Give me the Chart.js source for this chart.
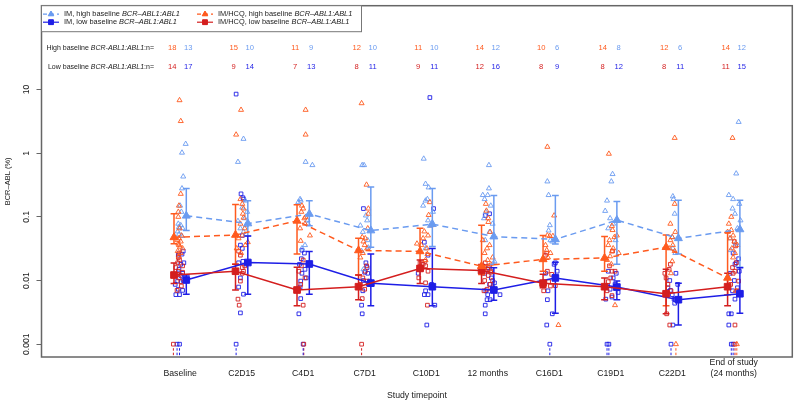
<!DOCTYPE html>
<html><head><meta charset="utf-8">
<script src="https://cdn.jsdelivr.net/npm/chart.js@4.4.1/dist/chart.umd.min.js"></script>
<style>html,body{margin:0;padding:0;background:#fff}</style>
</head><body>
<canvas id="c" width="798" height="401"></canvas>
<script>
// ---------------- data ----------------
const categories = ['Baseline','C2D15','C4D1','C7D1','C10D1','12 months','C16D1','C19D1','C22D1',['End of study','(24 months)']];
const yTicks = [0.001,0.01,0.1,1,10];
const yTickLabels = ['0.001','0.01','0.1','1','10'];

const nHighHcq = [18,15,11,12,11,14,10,14,12,14];
const nHighIm  = [13,10,9,10,10,12,6,8,6,12];
const nLowHcq  = [14,9,7,8,9,12,8,8,8,11];
const nLowIm   = [17,14,13,11,11,16,9,12,11,15];

// summary (mean + bars)
const hcqHighMean = [0.0477,0.052,0.0867,0.0297,0.0287,0.0168,0.0215,0.0226,0.0334,0.011];
const hcqHighLo   = [0.038,0.018,0.026,0.0122,0.016,0.0124,0.014,0.014,0.004,0.006];
const hcqHighHi   = [0.112,0.157,0.155,0.046,0.066,0.074,0.051,0.049,0.052,0.057];
const imHighMean  = [0.104,0.0787,0.111,0.061,0.077,0.049,0.0443,0.089,0.046,0.0635];
const imHighLo    = [0.061,0.050,0.0725,0.0334,0.0343,0.018,0.0375,0.018,0.026,0.0162];
const imHighHi    = [0.28,0.179,0.179,0.295,0.28,0.217,0.217,0.175,0.183,0.183];
const hcqLowMean  = [0.0122,0.014,0.0071,0.008,0.0155,0.0144,0.0091,0.008,0.0062,0.008];
const hcqLowLo    = [0.009,0.0071,0.004,0.005,0.009,0.009,0.0077,0.005,0.003,0.004];
const hcqLowHi    = [0.0189,0.018,0.0162,0.0122,0.021,0.0178,0.0125,0.011,0.015,0.013];
const imLowMean   = [0.0102,0.0192,0.0182,0.0091,0.008,0.0071,0.011,0.0079,0.005,0.0062];
const imLowLo     = [0.0061,0.0061,0.0061,0.004,0.004,0.0049,0.00305,0.005,0.002,0.00305];
const imLowHi     = [0.0122,0.050,0.0287,0.026,0.032,0.0159,0.0193,0.0098,0.0091,0.0159];

// individual patient values (0.001 = undetectable)
const hcqHighVals = [
 [6.8,3.2,0.23,0.15,0.12,0.10,0.066,0.046,0.041,0.036,0.032,0.043,0.051,0.038,0.034,0.029,0.027,0.024],
 [4.8,1.96,0.19,0.16,0.135,0.097,0.040,0.027,0.046,0.066,0.078,0.112,0.036,0.032,0.051],
 [4.8,1.96,0.15,0.135,0.12,0.10,0.051,0.042,0.095,0.066,0.078],
 [6.1,0.32,0.135,0.112,0.048,0.041,0.036,0.046,0.032,0.027,0.066,0.023],
 [0.17,0.107,0.059,0.038,0.026,0.046,0.032,0.074,0.036,0.021,0.051],
 [0.16,0.125,0.095,0.083,0.018,0.016,0.036,0.027,0.023,0.032,0.058,0.043,0.021,0.014],
 [1.26,0.105,0.036,0.030,0.023,0.051,0.050,0.050,0.002,0.027],
 [0.98,0.072,0.062,0.043,0.048,0.027,0.018,0.0041,0.036,0.032,0.024,0.051,0.021,0.029],
 [1.74,0.16,0.078,0.048,0.043,0.029,0.020,0.013,0.001,0.036,0.032,0.058],
 [1.74,0.10,0.062,0.051,0.0069,0.001,0.078,0.041,0.032,0.027,0.046,0.036,0.023,0.058]
];
const hcqHighJit = [
 [-0.01,0.01,0.01,-0.02,-0.03,-0.03,-0.01,-0.02,0.01,-0.02,0.04,-0.04,0.02,-0.03,0,-0.04,0.01,-0.02],
 [-0.01,-0.09,-0.02,0.01,0.03,0.03,0.1,-0.01,-0.05,0.05,-0.02,0.02,0.06,-0.08,0.01],
 [0.04,0.04,-0.02,0,-0.03,0.04,0.11,-0.04,0.02,-0.05,0.03],
 [-0.05,0.03,0.06,0.06,-0.04,-0.02,0,0.01,0.04,-0.03,0.05,-0.07],
 [0.06,0.04,-0.03,-0.15,0.02,-0.05,0.01,0.09,-0.08,-0.01,0.03],
 [-0.03,-0.02,0.01,0.01,0.05,-0.06,0.03,-0.05,0.08,-0.01,0.04,-0.08,0,0.06],
 [-0.03,0.08,-0.06,-0.04,-0.02,-0.03,0.01,0.06,0.15,0.02],
 [-0.03,0.02,0.03,-0.02,0.06,0.13,0.01,0.07,-0.04,0.04,-0.01,0.1,-0.06,0.02],
 [0.04,0.04,-0.03,0,-0.03,0.04,0,-0.02,0.06,0.01,-0.05,0.05],
 [-0.02,-0.04,-0.04,-0.01,0.03,0.05,-0.08,0.01,-0.03,0.02,-0.06,0.06,-0.01,-0.1]
];
const imHighVals = [
 [1.40,1.02,0.43,0.28,0.15,0.12,0.069,0.059,0.053,0.074,0.066,0.078,0.050],
 [1.68,0.73,0.086,0.18,0.12,0.066,0.095,0.14,0.058,0.074],
 [0.73,0.65,0.19,0.18,0.17,0.088,0.078,0.036,0.032],
 [0.65,0.65,0.033,0.015,0.105,0.073,0.043,0.058,0.088,0.029],
 [0.82,0.33,0.29,0.19,0.18,0.072,0.032,0.12,0.15,0.088],
 [0.65,0.28,0.22,0.22,0.043,0.020,0.19,0.15,0.12,0.078,0.058,0.095],
 [0.36,0.22,0.061,0.043,0.041,0.074],
 [0.47,0.36,0.18,0.124,0.043,0.095,0.078,0.066],
 [0.21,0.19,0.112,0.048,0.027,0.032],
 [3.1,0.48,0.22,0.19,0.112,0.16,0.030,0.088,0.135,0.066,0.046,0.038]
];
const imHighJit = [
 [0.09,0.03,0.05,0.03,0,0.02,-0.02,-0.04,-0.02,0.01,0.04,-0.03,0.03],
 [0.03,-0.06,-0.06,0.06,0.09,-0.02,0.05,0.01,0.03,0.07],
 [0.04,0.15,-0.05,-0.04,-0.08,0.07,0.08,0.03,-0.02],
 [-0.04,-0.01,0.06,-0.02,0.02,-0.07,0.05,-0.03,0.04,-0.05],
 [-0.04,-0.01,0.04,0.02,-0.01,0.06,-0.01,0.11,-0.05,0.03],
 [0.02,0.02,-0.08,0,-0.04,0.11,-0.05,0.05,-0.03,0.08,0.03,-0.06],
 [-0.03,-0.01,-0.01,0.02,0.05,0.01],
 [0.03,0.01,-0.06,-0.09,0.08,-0.01,0.04,-0.04],
 [0.01,0.02,0.04,0,0.05,0.01],
 [0.08,0.04,-0.08,-0.01,0.02,0.09,-0.05,0.11,-0.02,0.06,-0.06,0.03]
];
const hcqLowVals = [
 [0.023,0.019,0.017,0.014,0.0135,0.0096,0.0070,0.021,0.016,0.011,0.0082,0.0125,0.027,0.001],
 [0.029,0.025,0.017,0.016,0.014,0.013,0.0098,0.0051,0.0041],
 [0.021,0.017,0.014,0.0087,0.0041,0.001,0.011],
 [0.011,0.017,0.0052,0.001,0.014,0.0087,0.0073,0.0098],
 [0.020,0.018,0.017,0.015,0.011,0.0092,0.0041,0.019,0.014],
 [0.014,0.0135,0.012,0.010,0.0073,0.017,0.013,0.010,0.019,0.0087,0.0069,0.015],
 [0.027,0.025,0.0096,0.0082,0.0125,0.0083,0.014,0.0069],
 [0.029,0.014,0.014,0.011,0.0096,0.0069,0.0058,0.017],
 [0.018,0.013,0.003,0.002,0.0087,0.0069,0.011,0.015],
 [0.035,0.041,0.014,0.013,0.0098,0.0069,0.002,0.001,0.016,0.019,0.0087]
];
const hcqLowJit = [
 [-0.03,-0.04,0.04,-0.03,0.04,0.01,-0.05,-0.01,-0.07,-0.02,0.02,-0.04,-0.02,-0.11],
 [-0.05,-0.02,0.05,0.01,0.03,0.01,-0.02,-0.06,-0.04],
 [0,-0.03,-0.07,-0.04,0,0.01,0.03],
 [-0.03,0.03,-0.04,-0.05,0.01,-0.07,0,0.04],
 [-0.02,-0.05,-0.01,-0.08,-0.12,-0.01,0.02,-0.1,0.03],
 [-0.03,0.05,0.01,-0.05,-0.01,0.03,-0.08,0.08,-0.04,0.04,-0.06,0],
 [-0.04,-0.06,-0.01,0.02,0.04,0.1,-0.03,-0.09],
 [0.03,0.07,0.02,0,-0.04,-0.06,0.02,-0.02],
 [-0.03,-0.12,-0.09,-0.04,-0.07,-0.02,-0.1,-0.05],
 [0.03,0.01,0.02,-0.01,0.08,0.06,0.02,0.02,-0.02,0.04,-0.05]
];
const imLowVals = [
 [0.029,0.026,0.025,0.013,0.012,0.0087,0.007,0.006,0.006,0.018,0.015,0.010,0.0098,0.019,0.0073,0.001,0.001],
 [8.5,0.23,0.20,0.19,0.051,0.036,0.032,0.020,0.019,0.011,0.0079,0.0061,0.0031,0.001],
 [0.030,0.027,0.018,0.013,0.0098,0.0079,0.0052,0.003,0.022,0.015,0.011,0.0069,0.001],
 [0.135,0.0135,0.010,0.0098,0.0087,0.0041,0.003,0.019,0.013,0.0069,0.016],
 [7.5,0.135,0.040,0.025,0.013,0.0069,0.006,0.006,0.0041,0.002,0.0087],
 [0.105,0.112,0.011,0.0087,0.006,0.006,0.005,0.005,0.0041,0.003,0.0077,0.013,0.0092,0.0069,0.014,0.016],
 [0.013,0.0069,0.005,0.002,0.001,0.019,0.018,0.014,0.003],
 [0.0077,0.0051,0.001,0.001,0.011,0.0087,0.0073,0.0065,0.014,0.0055,0.013,0.0082],
 [0.007,0.006,0.0051,0.0051,0.002,0.001,0.010,0.0087,0.0044,0.0077,0.013],
 [0.027,0.019,0.018,0.010,0.0051,0.003,0.003,0.002,0.001,0.001,0.014,0.0077,0.0069,0.022,0.013]
];
const imLowJit = [
 [0.05,0.03,-0.03,0.04,0.01,-0.08,0.04,-0.07,-0.01,0.01,-0.02,0.05,-0.04,0.06,-0.03,-0.05,-0.01],
 [-0.09,-0.01,0.02,0.03,0.01,-0.02,0.01,0.02,-0.05,-0.02,-0.05,0.03,-0.02,-0.09],
 [-0.02,0.02,-0.06,-0.02,-0.04,-0.05,-0.04,-0.07,-0.03,0.03,0.05,-0.08,0],
 [-0.02,0,-0.02,0.08,0.06,-0.05,-0.04,0.02,0.05,-0.03,0.04],
 [0.06,0.12,-0.03,0.03,-0.13,-0.01,0.03,-0.03,0.14,0.01,0.09],
 [-0.04,0.03,0.06,0.03,0,0.2,-0.01,0.04,-0.04,-0.04,0.08,-0.05,0.11,-0.03,0.05,0.01],
 [-0.06,-0.02,-0.03,-0.04,0.01,0.1,0.08,0.13,0.05],
 [0.1,-0.08,-0.06,-0.03,0.04,0.07,-0.01,0.12,-0.04,0.02,0.09,-0.05],
 [-0.03,0,0.05,0.03,0.01,-0.02,-0.04,0.09,0.04,-0.07,0.06],
 [-0.01,0.04,0.02,0.01,0.02,-0.08,-0.04,-0.08,-0.04,-0.01,0.09,0.06,-0.02,0.08,-0.06]
];

// ---------------- styling ----------------
const FONT = "'Liberation Sans', Arial, Helvetica, sans-serif";
const C = { hcqHigh:'#FF5A1E', imHigh:'#6A9BF0', hcqLow:'#D41E1E', imLow:'#1E1EE6', text:'#1a1a1a', axis:'#666' };
const OFF_HCQ = -0.1, OFF_IM = 0.1;

function ptsData(vals, jit){ const out=[]; vals.forEach((arr,i)=>arr.forEach((v,k)=>out.push({x:i+jit[i][k], y:v}))); return out; }
function meanData(m, off){ return m.map((v,i)=>({x:i+off, y:v})); }

const pointSets = [
  {vals:hcqHighVals, jit:hcqHighJit, color:C.hcqHigh, style:'triangle', r:2.9},
  {vals:imHighVals,  jit:imHighJit,  color:C.imHigh,  style:'triangle', r:2.9},
  {vals:hcqLowVals,  jit:hcqLowJit,  color:C.hcqLow,  style:'rect', r:2.6},
  {vals:imLowVals,   jit:imLowJit,   color:C.imLow,   style:'rect', r:2.6}
];
const meanSets = [
  {m:hcqHighMean, lo:hcqHighLo, hi:hcqHighHi, off:OFF_HCQ, color:C.hcqHigh, dash:[6,4], style:'triangle', r:4.6},
  {m:imHighMean,  lo:imHighLo,  hi:imHighHi,  off:OFF_IM,  color:C.imHigh,  dash:[6,4], style:'triangle', r:4.6},
  {m:hcqLowMean,  lo:hcqLowLo,  hi:hcqLowHi,  off:OFF_HCQ, color:C.hcqLow,  dash:[],    style:'rect', r:4.7},
  {m:imLowMean,   lo:imLowLo,   hi:imLowHi,   off:OFF_IM,  color:C.imLow,   dash:[],    style:'rect', r:4.7}
];

const datasets = [];
pointSets.forEach((s,k)=>datasets.push({
  type:'scatter', data:ptsData(s.vals,s.jit), pointStyle:s.style, pointRadius:s.r,
  pointBorderWidth:0.9, borderColor:s.color, pointBorderColor:s.color,
  backgroundColor:'rgba(0,0,0,0)', pointBackgroundColor:'rgba(0,0,0,0)', order:10+k
}));
const LAST_POINT_ORDER = 10;
meanSets.forEach((s,k)=>datasets.push({
  type:'line', data:meanData(s.m,s.off), showLine:true, fill:false, tension:0,
  borderColor:s.color, borderWidth:1.5, borderDash:s.dash,
  pointStyle:s.style, pointRadius:s.r, pointBackgroundColor:s.color, pointBorderColor:s.color,
  pointBorderWidth:1, order:1+k
}));

function drawErrBars(chart){
  const {ctx, scales:{x,y}} = chart;
  meanSets.forEach(s=>{
    ctx.save(); ctx.strokeStyle=s.color; ctx.lineWidth=1.5; ctx.setLineDash([]);
    s.lo.forEach((lo,i)=>{
      const px=x.getPixelForValue(i+s.off), y1=y.getPixelForValue(lo), y2=y.getPixelForValue(s.hi[i]);
      ctx.beginPath();
      ctx.moveTo(px,y1); ctx.lineTo(px,y2);
      ctx.moveTo(px-3.4,y1); ctx.lineTo(px+3.4,y1);
      ctx.moveTo(px-3.4,y2); ctx.lineTo(px+3.4,y2);
      ctx.stroke();
    });
    ctx.restore();
  });
}

function mixed(ctx, parts, x, y, size, align){
  const w = parts.map(p=>{ctx.font=(p[1]?'italic ':'')+size+'px '+FONT; return ctx.measureText(p[0]).width;});
  const tot = w.reduce((a,b)=>a+b,0);
  let cx = align==='right' ? x-tot : x;
  parts.forEach((p,i)=>{ctx.font=(p[1]?'italic ':'')+size+'px '+FONT; ctx.fillText(p[0],cx,y); cx+=w[i];});
}

function marker(ctx, style, r, color, x, y){
  ctx.save(); ctx.fillStyle=color; ctx.strokeStyle=color; ctx.lineWidth=1; ctx.setLineDash([]);
  if (Chart.helpers && Chart.helpers.drawPoint){
    Chart.helpers.drawPoint(ctx,{pointStyle:style, radius:r, borderWidth:1, rotation:0},x,y);
    ctx.fill(); 
  }
  ctx.restore();
}

const legendItems = [
  {label:'IM, high baseline ', col:0, row:0, color:C.imHigh, dash:[4,3], style:'triangle', r:3.2},
  {label:'IM, low baseline ', col:0, row:1, color:C.imLow, dash:[], style:'rect', r:3.4},
  {label:'IM/HCQ, high baseline ', col:1, row:0, color:C.hcqHigh, dash:[4,3], style:'triangle', r:3.2},
  {label:'IM/HCQ, low baseline ', col:1, row:1, color:C.hcqLow, dash:[], style:'rect', r:3.4}
];

const custom = {
  id:'custom',
  afterDatasetDraw(chart, args){
    if (args.meta && args.meta.order === LAST_POINT_ORDER) drawErrBars(chart);
  },
  afterDraw(chart){
    const {ctx, chartArea:a, scales:{x,y}} = chart;
    ctx.save();
    // undetectable markers: dotted ticks under 0.001 points
    pointSets.forEach(s=>{
      ctx.strokeStyle=s.color; ctx.lineWidth=1; ctx.setLineDash([2.5,2]);
      s.vals.forEach((arr,i)=>arr.forEach((v,k)=>{
        if (v<=0.001){
          const px=x.getPixelForValue(i+s.jit[i][k]), py=y.getPixelForValue(v);
          ctx.beginPath(); ctx.moveTo(px,py+4); ctx.lineTo(px,py+12); ctx.stroke();
        }
      }));
    });
    ctx.setLineDash([]);
    // plot box
    ctx.strokeStyle=C.axis; ctx.lineWidth=1.5;
    ctx.strokeRect(a.left, a.top, a.right-a.left, a.bottom-a.top);
    // legend
    const lx0=a.left, ly0=a.top, lw=320, lh=26;
    ctx.fillStyle='#fff'; ctx.fillRect(lx0,ly0,lw,lh);
    ctx.strokeStyle='#777'; ctx.lineWidth=1; ctx.strokeRect(lx0,ly0,lw,lh);
    ctx.textBaseline='middle';
    legendItems.forEach(it=>{
      const sx = lx0 + (it.col===0 ? 1.5 : 155.5);
      const yy = ly0 + 8.5 + it.row*8;
      ctx.strokeStyle=it.color; ctx.lineWidth=1.2; ctx.setLineDash(it.dash);
      ctx.beginPath(); ctx.moveTo(sx,yy); ctx.lineTo(sx+16,yy); ctx.stroke(); ctx.setLineDash([]);
      marker(ctx,it.style,it.r,it.color,sx+8,yy);
      ctx.fillStyle=C.text;
      mixed(ctx,[[it.label,false],['BCR\u2013ABL1:ABL1',true]], sx+21, yy, 7.4, 'left');
    });
    // n= rows
    ctx.fillStyle=C.text;
    const rowY=[47.7,66.7];
    mixed(ctx,[['High baseline ',false],['BCR-ABL1:ABL1',true],[':n=',false]],154,rowY[0],7,'right');
    mixed(ctx,[['Low baseline ',false],['BCR-ABL1:ABL1',true],[':n=',false]],154,rowY[1],7,'right');
    ctx.font='7.6px '+FONT; ctx.textAlign='center';
    categories.forEach((c,i)=>{
      const pl=x.getPixelForValue(i-0.13), pr=x.getPixelForValue(i+0.13);
      ctx.fillStyle=C.hcqHigh; ctx.fillText(String(nHighHcq[i]),pl,rowY[0]);
      ctx.fillStyle=C.imHigh;  ctx.fillText(String(nHighIm[i]),pr,rowY[0]);
      ctx.fillStyle=C.hcqLow;  ctx.fillText(String(nLowHcq[i]),pl,rowY[1]);
      ctx.fillStyle=C.imLow;   ctx.fillText(String(nLowIm[i]),pr,rowY[1]);
    });
    ctx.restore();
  }
};

new Chart(document.getElementById('c'), {
  type:'scatter',
  data:{datasets},
  options:{
    responsive:false, animation:false, events:[],
    layout:{padding:{top:1,right:1,left:0,bottom:0}},
    plugins:{legend:{display:false}, tooltip:{enabled:false}},
    scales:{
      x:{type:'linear', min:-2.254, max:9.952, bounds:'data',
        afterBuildTicks:s=>{ s.ticks = categories.map((c,i)=>({value:i})); },
        afterFit:s=>{ s.height=44; },
        grid:{display:false, drawTicks:false}, border:{display:false},
        ticks:{autoSkip:false, maxRotation:0, minRotation:0, crossAlign:'far', padding:6, color:C.text,
          font:{family:FONT, size:8.7, lineHeight:1.22}, callback:(v,i)=>categories[i]},
        title:{display:true, text:'Study timepoint', color:C.text, font:{family:FONT, size:8.7}, padding:{top:0,bottom:0}}
      },
      y:{type:'logarithmic', min:0.000629, max:208, bounds:'data',
        afterBuildTicks:s=>{ s.ticks = yTicks.map(v=>({value:v})); },
        afterFit:s=>{ s.width=41.5; },
        grid:{drawOnChartArea:false, drawTicks:true, tickLength:5, color:C.axis, lineWidth:1},
        border:{display:false},
        ticks:{autoSkip:false, minRotation:90, maxRotation:90, crossAlign:'center', padding:-1.2, color:C.text,
          font:{family:FONT, size:8.6}, callback:(v,i)=>yTickLabels[i]},
        title:{display:true, text:'BCR\u2013ABL (%)', color:C.text, font:{family:FONT, size:7.5}, padding:{top:3.5,bottom:0}}
      }
    }
  },
  plugins:[custom]
});
</script>
</body></html>
